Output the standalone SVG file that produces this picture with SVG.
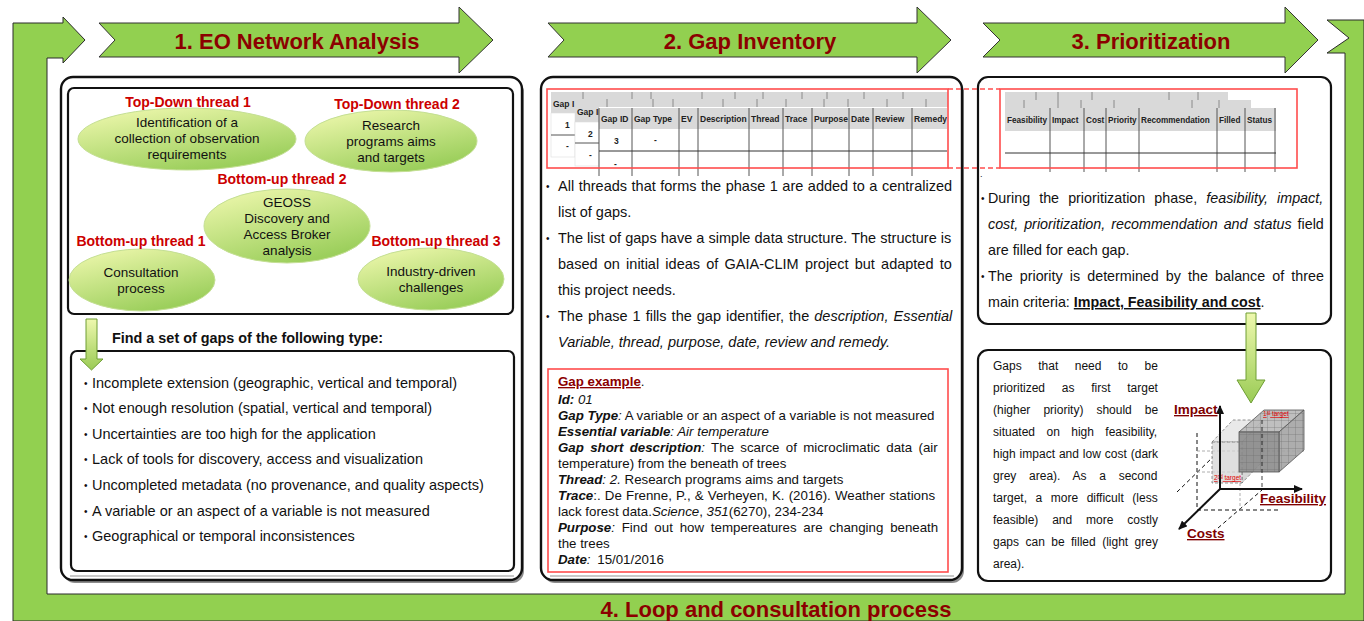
<svg xmlns="http://www.w3.org/2000/svg" width="1364" height="621" viewBox="0 0 1364 621">
<defs>
<style>
text{font-family:"Liberation Sans",Arial,sans-serif;}
.title{font-size:22px;font-weight:bold;fill:#8B0000;text-anchor:middle}
.thr{font-size:14px;font-weight:bold;fill:#CC0000;text-anchor:middle}
.ell{font-size:13.5px;fill:#111;text-anchor:middle}
.body{font-size:14.5px;fill:#111}
.b3{font-size:14.3px;fill:#111}
.low{font-size:12px;fill:#111}
.gx{font-size:13.3px;fill:#111}
.th{font-size:8.5px;font-weight:bold;fill:#222}
.th2{font-size:8.2px;font-weight:bold;fill:#222}
.bi{font-weight:bold;font-style:italic}
.i{font-style:italic}
.bul{font-size:10px;fill:#111}
.box{fill:#fff;stroke:#111;stroke-width:2.4}
.ibox{fill:#fff;stroke:#111;stroke-width:2.2}
.chev{fill:#92D050;stroke:#333;stroke-width:1}
.oval{fill:url(#ovalG);stroke:#C4DF94;stroke-width:1}
.strip{fill:#D9D9D9}
.dv{stroke:#8a8a8a;stroke-width:1}
.gl{stroke:#555;stroke-width:1}
.redbox{fill:none;stroke:#FF4D4D;stroke-width:1.6}
.axlab{font-size:13.5px;font-weight:bold;fill:#7F0000;text-decoration:underline}
.dash{stroke:#111;stroke-width:1;stroke-dasharray:4 3;fill:none}
.ldash{stroke:#999;stroke-width:0.8;stroke-dasharray:3 2;fill:none}
.darrow{fill:url(#arrG);stroke:#6E9E34;stroke-width:1}
</style>
<linearGradient id="ovalG" x1="0" y1="0" x2="0.55" y2="1">
<stop offset="0" stop-color="#F3FAB2"/>
<stop offset="1" stop-color="#9CCF5C"/>
</linearGradient>
<linearGradient id="arrG" x1="0" y1="0" x2="0" y2="1">
<stop offset="0" stop-color="#EEF8AE"/>
<stop offset="1" stop-color="#9ACB55"/>
</linearGradient>
<pattern id="grid" width="7" height="7" patternUnits="userSpaceOnUse">
<path d="M7,0 L0,0 L0,7" fill="none" stroke="#6a6a6a" stroke-width="0.6"/>
</pattern>
<marker id="ah" markerWidth="9" markerHeight="8" refX="8" refY="4" orient="auto" markerUnits="userSpaceOnUse">
<path d="M0,0 L9,4 L0,8 z" fill="#111"/>
</marker>
</defs>
<rect width="1364" height="621" fill="#fff"/>

<!-- green loop -->
<g id="loop">
<path d="M13,621 L13,23 L63,23 L63,17 L85,40 L63,63 L63,58 L47,58 L47,594 L1345,594 L1345,53 L1327,53 L1349,38 L1327,20 L1364,20 L1364,621 Z" fill="#92D050" stroke="#2a2a2a" stroke-width="1"/>
<text class="title" x="776" y="617">4. Loop and consultation process</text>
</g>

<!-- phase chevrons -->
<g id="phase1">
<polygon class="chev" points="99,23 459,23 459,7 493,40 459,73 459,57 99,57 115,40"/>
<text class="title" x="297" y="49">1. EO Network Analysis</text>
</g>
<g id="phase2">
<polygon class="chev" points="548,23 917,23 917,7 951,40 917,73 917,57 548,57 564,40"/>
<text class="title" x="750" y="49">2. Gap Inventory</text>
</g>
<g id="phase3">
<polygon class="chev" points="983,23 1285,23 1285,7 1318,40 1285,73 1285,57 983,57 1000,40"/>
<text class="title" x="1151" y="49">3. Prioritization</text>
</g>

<!-- column 1 -->
<g id="col1-frame">
<rect x="63" y="80" width="461" height="503" rx="12" fill="#8c8c8c"/>
<rect class="box" x="61" y="77" width="461" height="503" rx="12"/>
<line x1="70" y1="576" x2="514" y2="576" stroke="#c8c8c8" stroke-width="2"/>
</g>
<g id="threads-box">
<rect class="ibox" x="68" y="88" width="445" height="226" rx="6"/>
</g>
<g id="td1">
<ellipse class="oval" cx="187" cy="139" rx="109" ry="31"/>
<text class="thr" x="188" y="107">Top-Down thread 1</text>
<text class="ell" x="187" y="127">Identification of a</text>
<text class="ell" x="187" y="143">collection of observation</text>
<text class="ell" x="187" y="159">requirements</text>
</g>
<g id="td2">
<ellipse class="oval" cx="391" cy="141" rx="86" ry="31"/>
<text class="thr" x="397" y="109">Top-Down thread 2</text>
<text class="ell" x="391" y="130">Research</text>
<text class="ell" x="391" y="146">programs aims</text>
<text class="ell" x="391" y="162">and targets</text>
</g>
<g id="bu2">
<ellipse class="oval" cx="287" cy="226" rx="83" ry="37"/>
<text class="thr" x="282" y="184">Bottom-up thread 2</text>
<text class="ell" x="287" y="207">GEOSS</text>
<text class="ell" x="287" y="223">Discovery and</text>
<text class="ell" x="287" y="239">Access Broker</text>
<text class="ell" x="287" y="255">analysis</text>
</g>
<g id="bu1">
<ellipse class="oval" cx="142" cy="280" rx="73" ry="31"/>
<text class="thr" x="141" y="246">Bottom-up thread 1</text>
<text class="ell" x="141" y="277">Consultation</text>
<text class="ell" x="141" y="293">process</text>
</g>
<g id="bu3">
<ellipse class="oval" cx="431" cy="279" rx="73" ry="31"/>
<text class="thr" x="436" y="246">Bottom-up thread 3</text>
<text class="ell" x="431" y="276">Industry-driven</text>
<text class="ell" x="431" y="292">challenges</text>
</g>
<g id="gap-types">
<text x="112" y="343" style="font-size:14.4px;font-weight:bold;fill:#111">Find a set of gaps of the following type:</text>
<rect class="ibox" x="71" y="351" width="443" height="220" rx="6"/>
<g class="bul"><text x="84" y="387">•</text><text x="84" y="412">•</text><text x="84" y="438">•</text><text x="84" y="463">•</text><text x="84" y="489">•</text><text x="84" y="515">•</text><text x="84" y="540">•</text></g>
<text class="body" x="92" y="388">Incomplete extension (geographic, vertical and temporal)</text>
<text class="body" x="92" y="413">Not enough resolution (spatial, vertical and temporal)</text>
<text class="body" x="92" y="439">Uncertainties are too high for the application</text>
<text class="body" x="92" y="464">Lack of tools for discovery, access and visualization</text>
<text class="body" x="92" y="490">Uncompleted metadata (no provenance, and quality aspects)</text>
<text class="body" x="92" y="516">A variable or an aspect of a variable is not measured</text>
<text class="body" x="92" y="541">Geographical or temporal inconsistences</text>
</g>

<!-- column 2 -->
<g id="col2-frame">
<rect x="543" y="80" width="421" height="503" rx="12" fill="#8c8c8c"/>
<rect class="box" x="541" y="77" width="421" height="503" rx="12"/>
<line x1="550" y1="576" x2="954" y2="576" stroke="#c8c8c8" stroke-width="2"/>
</g>
<g id="gap-table">
<!-- sheet 1 -->
<rect class="strip" x="551" y="92" width="397" height="7"/>
<g class="dv"><line x1="583" y1="92" x2="583" y2="99"/><line x1="632" y1="92" x2="632" y2="99"/><line x1="651" y1="92" x2="651" y2="99"/><line x1="702" y1="92" x2="702" y2="99"/><line x1="735" y1="92" x2="735" y2="99"/><line x1="763" y1="92" x2="763" y2="99"/><line x1="802" y1="92" x2="802" y2="99"/><line x1="827" y1="92" x2="827" y2="99"/><line x1="864" y1="92" x2="864" y2="99"/><line x1="903" y1="92" x2="903" y2="99"/></g>
<rect class="strip" x="551" y="99" width="24" height="14"/>
<text class="th" x="553" y="107">Gap I</text>
<rect x="551" y="113" width="24" height="44" fill="#fff" stroke="#ddd" stroke-width="0.6"/>
<line class="gl" x1="551" y1="135" x2="575" y2="135"/>
<text class="th" x="565" y="128">1</text>
<text class="th" x="566" y="149" fill="#aaa">-</text>
<!-- sheet 2 -->
<rect class="strip" x="575" y="99" width="373" height="8"/>
<g class="dv"><line x1="607" y1="99" x2="607" y2="107"/><line x1="653" y1="99" x2="653" y2="107"/><line x1="673" y1="99" x2="673" y2="107"/><line x1="723" y1="99" x2="723" y2="107"/><line x1="757" y1="99" x2="757" y2="107"/><line x1="786" y1="99" x2="786" y2="107"/><line x1="824" y1="99" x2="824" y2="107"/><line x1="848" y1="99" x2="848" y2="107"/><line x1="887" y1="99" x2="887" y2="107"/><line x1="926" y1="99" x2="926" y2="107"/></g>
<rect class="strip" x="575" y="107" width="24" height="15"/>
<text class="th" x="577" y="115">Gap ID</text>
<rect x="575" y="122" width="24" height="44" fill="#fff" stroke="#ddd" stroke-width="0.6"/>
<line class="gl" x1="575" y1="143" x2="599" y2="143"/>
<text class="th" x="588" y="137">2</text>
<text class="th" x="589" y="158" fill="#aaa">-</text>
<!-- sheet 3 -->
<rect x="599" y="108" width="348" height="66" fill="#fff"/>
<rect class="strip" x="599" y="108" width="348" height="21"/>
<g class="gl"><line x1="599" y1="108" x2="599" y2="176"/><line x1="632" y1="108" x2="632" y2="176"/><line x1="679" y1="108" x2="679" y2="176"/><line x1="698" y1="108" x2="698" y2="176"/><line x1="749" y1="108" x2="749" y2="176"/><line x1="783" y1="108" x2="783" y2="176"/><line x1="812" y1="108" x2="812" y2="176"/><line x1="849" y1="108" x2="849" y2="176"/><line x1="873" y1="108" x2="873" y2="176"/><line x1="912" y1="108" x2="912" y2="176"/></g>
<line x1="599" y1="151" x2="947" y2="151" stroke="#333" stroke-width="1"/>
<text class="th" x="601" y="122">Gap ID</text>
<text class="th" x="634" y="122">Gap Type</text>
<text class="th" x="681" y="122">EV</text>
<text class="th" x="700" y="122">Description</text>
<text class="th" x="751" y="122">Thread</text>
<text class="th" x="785" y="122">Trace</text>
<text class="th" x="814" y="122">Purpose</text>
<text class="th" x="851" y="122">Date</text>
<text class="th" x="875" y="122">Review</text>
<text class="th" x="914" y="122">Remedy</text>
<text class="th" x="614" y="144">3</text>
<text class="th" x="654" y="143" fill="#aaa">-</text>
<text class="th" x="614" y="167" fill="#aaa">-</text>
<rect class="redbox" x="547" y="89" width="401" height="79"/>
</g>
<g id="gap-text">
<g class="bul"><text x="546" y="190">•</text><text x="546" y="242">•</text><text x="546" y="320">•</text></g>
<text class="body" x="558" y="191" style="word-spacing:0.5px">All threads that forms the phase 1 are added to a centralized</text>
<text class="body" x="558" y="217">list of gaps.</text>
<text class="body" x="558" y="243" style="word-spacing:0.1px">The list of gaps have a simple data structure. The structure is</text>
<text class="body" x="558" y="269" style="word-spacing:2.2px">based on initial ideas of GAIA-CLIM project but adapted to</text>
<text class="body" x="558" y="295">this project needs.</text>
<text class="body" x="558" y="321" style="word-spacing:1px">The phase 1 fills the  gap identifier, the <tspan class="i">description, Essential</tspan></text>
<text class="body i" x="558" y="347">Variable, thread, purpose, date, review and remedy.</text>
</g>
<g id="gap-example">
<rect class="redbox" x="548" y="369" width="400" height="203"/>
<text class="gx" x="558" y="386"><tspan fill="#8B0000" font-weight="bold" text-decoration="underline">Gap example</tspan>.</text>
<text class="gx" x="558" y="404"><tspan class="bi">Id:</tspan><tspan class="i"> 01</tspan></text>
<text class="gx" x="558" y="420"><tspan class="bi">Gap Type</tspan><tspan class="i">:</tspan> A variable or an aspect of a variable is not measured</text>
<text class="gx" x="558" y="436"><tspan class="bi">Essential variable</tspan><tspan class="i">: Air temperature</tspan></text>
<text class="gx" x="558" y="452" style="word-spacing:2.6px"><tspan class="bi">Gap short description</tspan><tspan class="i">:</tspan> The scarce of microclimatic data (air</text>
<text class="gx" x="558" y="468">temperature) from the beneath of trees</text>
<text class="gx" x="558" y="484"><tspan class="bi">Thread</tspan><tspan class="i">: 2.</tspan> Research programs aims and targets</text>
<text class="gx" x="558" y="500" style="word-spacing:0.5px"><tspan class="bi">Trace</tspan>:. De Frenne, P., &amp; Verheyen, K. (2016). Weather stations</text>
<text class="gx" x="558" y="516">lack forest data.<tspan class="i">Science</tspan>, <tspan class="i">351</tspan>(6270), 234-234</text>
<text class="gx" x="558" y="532" style="word-spacing:3.1px"><tspan class="bi">Purpose</tspan><tspan class="i">:</tspan> Find out how tempereatures are changing beneath</text>
<text class="gx" x="558" y="548">the trees</text>
<text class="gx" x="558" y="564"><tspan class="bi">Date</tspan><tspan class="i">:</tspan> <tspan dx="3">15/01/2016</tspan></text>
</g>

<!-- column 3 -->
<g id="prio-box">
<rect class="ibox" x="978" y="77" width="353" height="247" rx="10"/>
<rect class="strip" x="1005" y="92" width="223" height="8"/>
<g class="dv"><line x1="1036" y1="92" x2="1036" y2="100"/><line x1="1058" y1="92" x2="1058" y2="100"/><line x1="1092" y1="92" x2="1092" y2="100"/><line x1="1169" y1="92" x2="1169" y2="100"/><line x1="1198" y1="92" x2="1198" y2="100"/></g>
<rect class="strip" x="1005" y="100" width="246" height="8"/>
<g class="dv"><line x1="1024" y1="100" x2="1024" y2="108"/><line x1="1058" y1="100" x2="1058" y2="108"/><line x1="1081" y1="100" x2="1081" y2="108"/><line x1="1114" y1="100" x2="1114" y2="108"/><line x1="1192" y1="100" x2="1192" y2="108"/><line x1="1219" y1="100" x2="1219" y2="108"/></g>
<rect class="strip" x="1005" y="108" width="271" height="23"/>
<g class="gl"><line x1="1050" y1="108" x2="1050" y2="172"/><line x1="1084" y1="108" x2="1084" y2="172"/><line x1="1106" y1="108" x2="1106" y2="172"/><line x1="1139" y1="108" x2="1139" y2="172"/><line x1="1217" y1="108" x2="1217" y2="172"/><line x1="1245" y1="108" x2="1245" y2="172"/><line x1="1275" y1="108" x2="1275" y2="172"/></g>
<line x1="1005" y1="153" x2="1276" y2="153" stroke="#333" stroke-width="1"/>
<text class="th2" x="1007" y="123">Feasibility</text>
<text class="th2" x="1052" y="123">Impact</text>
<text class="th2" x="1086" y="123">Cost</text>
<text class="th2" x="1108" y="123">Priority</text>
<text class="th2" x="1141" y="123">Recommendation</text>
<text class="th2" x="1219" y="123">Filled</text>
<text class="th2" x="1247" y="123">Status</text>
<rect class="redbox" x="1000" y="89" width="297" height="79"/>
<text x="980" y="177" style="font-size:9px;fill:#111">.</text>
<g class="bul"><text x="981" y="202">•</text><text x="981" y="280">•</text></g>
<text class="b3" x="988" y="203" style="word-spacing:5.1px">During the prioritization phase, <tspan class="i">feasibility, impact,</tspan></text>
<text class="b3" x="988" y="229" style="word-spacing:2px"><tspan class="i">cost, prioritization, recommendation and status</tspan> field</text>
<text class="b3" x="988" y="255">are filled for each gap.</text>
<text class="b3" x="988" y="281" style="word-spacing:3.15px">The priority is determined by the balance of three</text>
<text class="b3" x="988" y="307">main criteria: <tspan font-weight="bold" text-decoration="underline">Impact, Feasibility and cost</tspan>.</text>
</g>
<g id="target-box">
<rect class="ibox" x="978" y="350" width="353" height="231" rx="10"/>
<text class="low" x="993" y="370" style="word-spacing:13.2px">Gaps that need to be</text>
<text class="low" x="993" y="392" style="word-spacing:13.4px">prioritized as first target</text>
<text class="low" x="993" y="414" style="word-spacing:9.7px">(higher priority) should be</text>
<text class="low" x="993" y="436" style="word-spacing:8.1px">situated on high feasibility,</text>
<text class="low" x="993" y="458" style="word-spacing:0.6px">high impact and low cost (dark</text>
<text class="low" x="993" y="480" style="word-spacing:9.4px">grey area). As a second</text>
<text class="low" x="993" y="502" style="word-spacing:5.2px">target, a more difficult (less</text>
<text class="low" x="993" y="524" style="word-spacing:10.5px">feasible) and more costly</text>
<text class="low" x="993" y="546" style="word-spacing:3.1px">gaps can be filled (light grey</text>
<text class="low" x="993" y="568">area).</text>
</g>
<g id="cube-chart">
<line class="dash" x1="1197" y1="433" x2="1197" y2="510"/>
<line class="dash" x1="1197" y1="510" x2="1278" y2="510"/>
<line class="dash" x1="1177" y1="492" x2="1213" y2="457"/>
<line class="dash" x1="1218" y1="528" x2="1262" y2="490"/>
<line class="ldash" x1="1240" y1="483" x2="1240" y2="510"/>
<line class="ldash" x1="1197" y1="451" x2="1304" y2="451"/>
<line class="ldash" x1="1197" y1="472" x2="1242" y2="472"/>
<!-- light cube (2nd target) -->
<g fill="#D4D4D4" fill-opacity="0.75" stroke="#777" stroke-width="0.8" stroke-dasharray="3 2">
<polygon points="1212,442 1233,420 1263,420 1242,442" fill="#E2E2E2"/>
<polygon points="1242,442 1263,420 1263,461 1242,483" fill="#C8C8C8"/>
<rect x="1212" y="442" width="30" height="41"/>
</g>
<!-- dark cube (1st target) -->
<g stroke="#555" stroke-width="0.8" fill-opacity="0.9">
<polygon points="1239,432 1264,410 1304,410 1279,432" fill="#B8B8B8"/>
<polygon points="1279,432 1304,410 1304,450 1279,472" fill="#A4A4A4"/>
<rect x="1239" y="432" width="40" height="40" fill="#8C8C8C"/>
</g>
<g fill="url(#grid)" stroke="none">
<polygon points="1239,432 1264,410 1304,410 1279,432"/>
<polygon points="1279,432 1304,410 1304,450 1279,472"/>
<rect x="1239" y="432" width="40" height="40"/>
</g>
<line class="dash" x1="1262" y1="420" x2="1262" y2="490" stroke-opacity="0.8"/>
<text x="1263" y="416" style="font-size:6.5px;fill:#E00000;text-decoration:underline">1<tspan font-size="4.5" dy="-2.5">st</tspan><tspan dy="2.5"> target</tspan></text>
<text x="1214" y="480" style="font-size:6.5px;fill:#E00000;text-decoration:underline">2<tspan font-size="4.5" dy="-2.5">nd</tspan><tspan dy="2.5"> target</tspan></text>
<g stroke="#111" stroke-width="2" marker-end="url(#ah)">
<line x1="1220" y1="489" x2="1220" y2="406"/>
<line x1="1220" y1="489" x2="1302" y2="489"/>
<line x1="1220" y1="489" x2="1179" y2="529"/>
</g>
<text class="axlab" x="1174" y="414">Impact</text>
<text class="axlab" x="1260" y="503">Feasibility</text>
<text class="axlab" x="1187" y="538">Costs</text>
</g>

<!-- connectors -->
<g id="connectors">
<polygon class="darrow" points="86,319 97,319 97,359 103,359 91.5,370 80,359 86,359"/>
<polygon class="darrow" points="1246,313 1256,313 1256,380 1265,380 1251,403 1237,380 1246,380"/>
<g stroke="#FF4D4D" stroke-width="1.5" stroke-dasharray="5 3">
<line x1="948" y1="89" x2="1000" y2="89"/>
<line x1="948" y1="168" x2="1000" y2="168"/>
</g>
</g>
</svg>
